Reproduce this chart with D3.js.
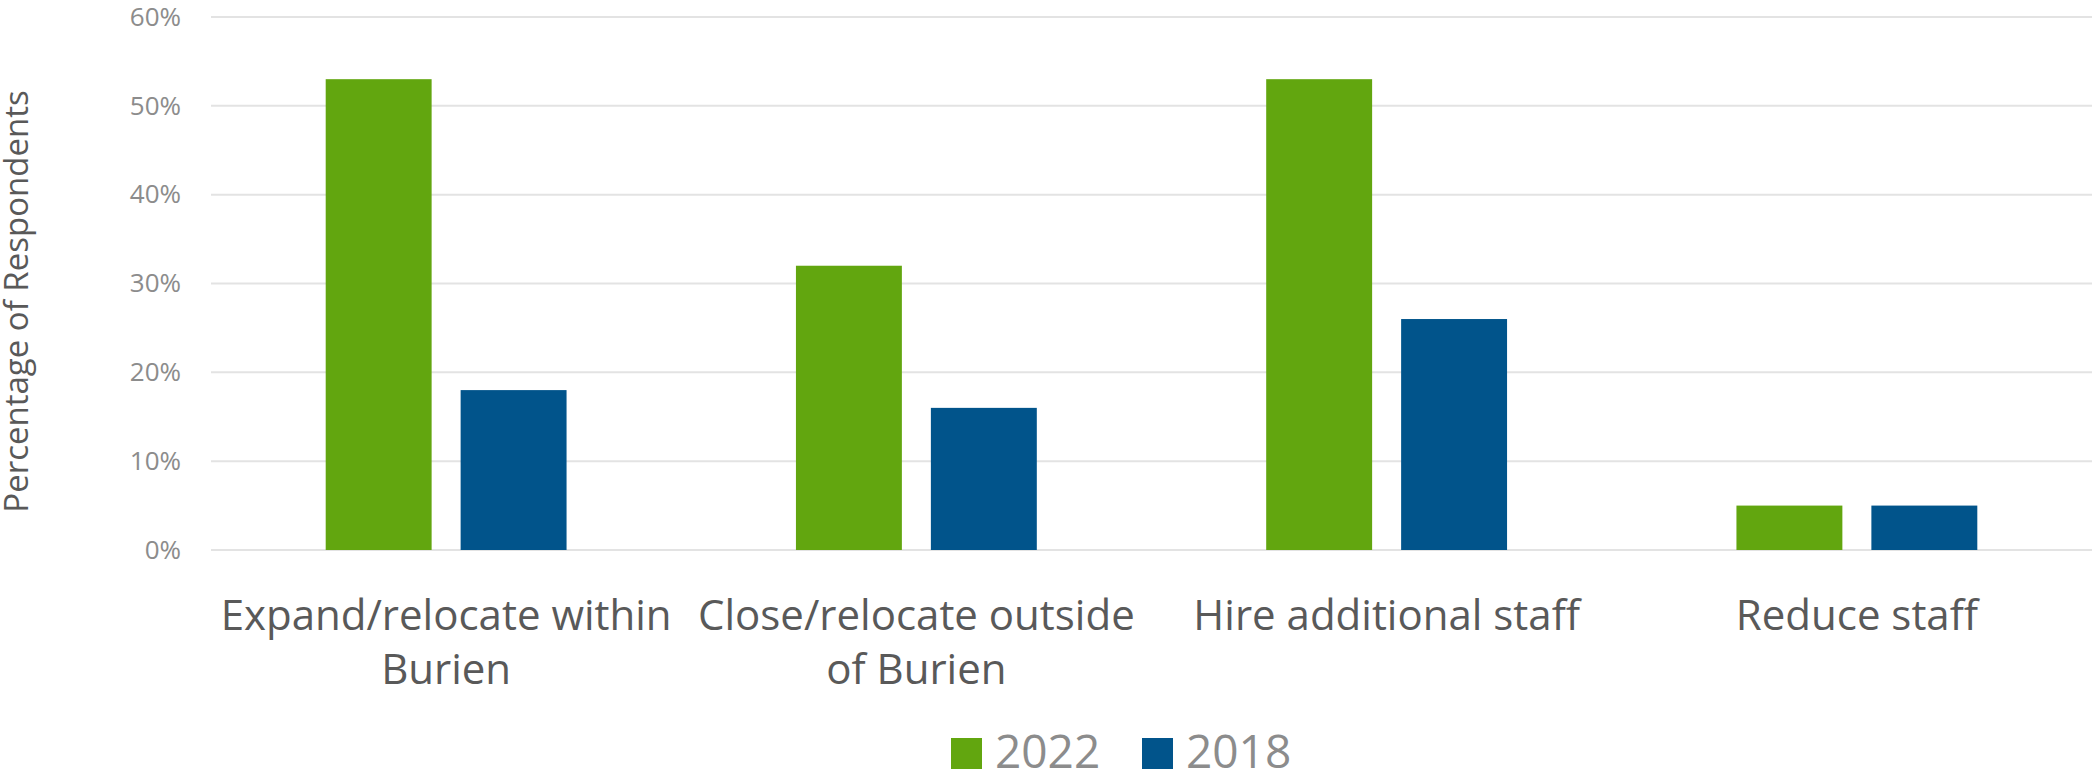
<!DOCTYPE html>
<html>
<head>
<meta charset="utf-8">
<script src="https://cdn.jsdelivr.net/npm/d3@7"></script>
<style>
  body { margin: 0; background: #fff; }
  text { font-family: "Open Sans", sans-serif; }
</style>
</head>
<body>
<svg id="chart" width="2095" height="780"></svg>
<script>
const categories = [
  'Expand/relocate within Burien',
  'Close/relocate outside of Burien',
  'Hire additional staff',
  'Reduce staff'
];
// label lines as wrapped in the original
const categoryLines = [
  ['Expand/relocate within', 'Burien'],
  ['Close/relocate outside', 'of Burien'],
  ['Hire additional staff'],
  ['Reduce staff']
];
const series = ['2022', '2018'];
const values2022 = [0.53, 0.32, 0.53, 0.05];
const values2018 = [0.18, 0.16, 0.26, 0.05];
const yTicks = [0, 0.1, 0.2, 0.3, 0.4, 0.5, 0.6];
const colors = { '2022': '#62a60f', '2018': '#01548b' };

const svg = d3.select('#chart');
const margin = { top: 17, right: 3, bottom: 230, left: 211 };
const width = 2095;
const height = 780;

const rows = categories.map((c, i) => ({
  category: c,
  lines: categoryLines[i],
  values: [
    { key: '2022', value: values2022[i] },
    { key: '2018', value: values2018[i] }
  ]
}));

const x0 = d3.scaleBand()
  .domain(categories)
  .range([margin.left, width - margin.right])
  .padding(0);

const x1 = d3.scaleBand()
  .domain(series)
  .range([0, x0.bandwidth()])
  .paddingInner(0.215)
  .paddingOuter(0.85);

const y = d3.scaleLinear()
  .domain([0, 0.6])
  .range([height - margin.bottom, margin.top]);

// gridlines
svg.append('g')
  .selectAll('line')
  .data(yTicks)
  .enter().append('line')
  .attr('x1', margin.left)
  .attr('x2', width - margin.right)
  .attr('y1', d => y(d))
  .attr('y2', d => y(d))
  .style('stroke', '#e3e3e3')
  .style('stroke-width', 2);

// y axis labels
const yAxis = svg.append('g')
  .attr('transform', `translate(${margin.left - 30},0)`)
  .call(d3.axisLeft(y).tickValues(yTicks).tickFormat(d3.format('.0%')).tickSize(0).tickPadding(0));
yAxis.select('.domain').remove();
yAxis.selectAll('text')
  .style('font-family', '"Open Sans", sans-serif')
  .style('font-size', '26px')
  .style('fill', '#8c8c8c');

// bars
const groups = svg.append('g')
  .selectAll('g')
  .data(rows)
  .enter().append('g')
  .attr('transform', d => `translate(${x0(d.category)},0)`);

groups.selectAll('rect')
  .data(d => d.values)
  .enter().append('rect')
  .attr('x', d => x1(d.key))
  .attr('y', d => y(d.value))
  .attr('width', x1.bandwidth())
  .attr('height', d => y(0) - y(d.value))
  .style('fill', d => colors[d.key]);

// category labels
const catLabels = svg.append('g')
  .selectAll('text')
  .data(rows)
  .enter().append('text')
  .attr('x', d => x0(d.category) + x0.bandwidth() / 2)
  .attr('y', 630)
  .attr('text-anchor', 'middle')
  .style('font-size', '42px')
  .style('fill', '#595959');

catLabels.selectAll('tspan')
  .data(d => d.lines)
  .enter().append('tspan')
  .attr('x', function () { return d3.select(this.parentNode).attr('x'); })
  .attr('dy', (d, i) => i === 0 ? 0 : 54)
  .text(d => d);

// y axis title
svg.append('text')
  .attr('transform', `translate(28,${(margin.top + height - margin.bottom) / 2 + 18}) rotate(-90)`)
  .attr('text-anchor', 'middle')
  .style('font-size', '33px')
  .style('fill', '#595959')
  .text('Percentage of Respondents');

// legend
const legend = svg.append('g')
  .attr('transform', 'translate(951,0)');

const items = legend.selectAll('g')
  .data(series)
  .enter().append('g')
  .attr('transform', (d, i) => `translate(${i * 191},0)`);

items.append('rect')
  .attr('x', 0)
  .attr('y', 738)
  .attr('width', 31)
  .attr('height', 31)
  .style('fill', d => colors[d]);

items.append('text')
  .attr('x', 44)
  .attr('y', 768)
  .style('font-size', '46px')
  .style('fill', '#8c8c8c')
  .text(d => d);
</script>
</body>
</html>
